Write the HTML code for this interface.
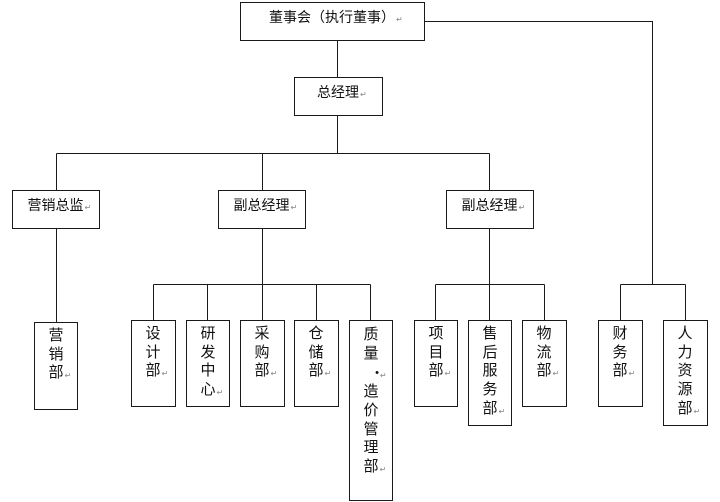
<!DOCTYPE html>
<html><head><meta charset="utf-8">
<style>
html,body{margin:0;padding:0;background:#fff;}
#c{position:relative;width:720px;height:502px;overflow:hidden;background:#fff;font-family:"Liberation Sans","Noto Sans CJK SC",sans-serif;color:#111;}
svg{position:absolute;left:0;top:0;}
.h{position:absolute;text-align:center;font-size:14px;line-height:20px;white-space:nowrap;}
.v{position:absolute;text-align:center;font-size:15px;line-height:18.7px;}
.v div{position:relative;}
.t{position:relative;display:inline-block;}
.m{position:absolute;left:100%;bottom:3px;font-size:8px;line-height:8px;color:#888;margin-left:1px;}
.dot{font-size:11px;position:relative;left:6px;}
</style></head><body>
<div id="c">
<svg width="720" height="502" shape-rendering="crispEdges">
<g fill="none" stroke="#1a1a1a" stroke-width="1">
<rect x="240.5" y="2.5" width="184" height="38"/>
<rect x="294.5" y="77.5" width="88" height="38"/>
<rect x="12.5" y="190.5" width="87" height="38"/>
<rect x="218.5" y="190.5" width="87" height="38"/>
<rect x="446.5" y="190.5" width="87" height="38"/>
<rect x="34.5" y="322.5" width="43" height="87"/>
<rect x="131.5" y="320.5" width="44" height="86"/>
<rect x="186.5" y="320.5" width="43" height="86"/>
<rect x="240.5" y="320.5" width="44" height="86"/>
<rect x="294.5" y="320.5" width="44" height="86"/>
<rect x="349.5" y="320.5" width="43" height="180"/>
<rect x="414.5" y="320.5" width="43" height="86"/>
<rect x="468.5" y="320.5" width="43" height="105"/>
<rect x="522.5" y="320.5" width="44" height="86"/>
<rect x="598.5" y="320.5" width="44" height="86"/>
<rect x="663.5" y="320.5" width="44" height="105"/>
<path d="M337.5 40.5V77.5 M337.5 115.5V153.5 M56.5 153.5H489.5 M56.5 153.5V190.5 M262.5 153.5V190.5 M489.5 153.5V190.5"/>
<path d="M424.5 21.5H652.5V284.5 M620.5 284.5H685.5 M620.5 284.5V320.5 M685.5 284.5V320.5"/>
<path d="M56.5 228.5V322.5"/>
<path d="M262.5 228.5V284.5 M153.5 284.5H370.5 M153.5 284.5V320.5 M207.5 284.5V320.5 M262.5 284.5V320.5 M316.5 284.5V320.5 M370.5 284.5V320.5"/>
<path d="M489.5 228.5V284.5 M435.5 284.5H544.5 M435.5 284.5V320.5 M489.5 284.5V320.5 M544.5 284.5V320.5"/>
</g>
</svg>

<div class="h" style="left:240px;top:7px;width:184px;"><span class="t">董事会（执行董事）<span class="m">↵</span></span></div>
<div class="h" style="left:294px;top:82px;width:88px;"><span class="t">总经理<span class="m">↵</span></span></div>
<div class="h" style="left:12px;top:195px;width:87px;"><span class="t">营销总监<span class="m">↵</span></span></div>
<div class="h" style="left:218px;top:195px;width:87px;"><span class="t">副总经理<span class="m">↵</span></span></div>
<div class="h" style="left:446px;top:195px;width:87px;"><span class="t">副总经理<span class="m">↵</span></span></div>

<div class="v" style="left:34px;top:327px;width:44px;"><div>营</div><div>销</div><div><span class="t">部<span class="m">↵</span></span></div></div>
<div class="v" style="left:131px;top:325px;width:44px;"><div>设</div><div>计</div><div><span class="t">部<span class="m">↵</span></span></div></div>
<div class="v" style="left:186px;top:325px;width:44px;"><div>研</div><div>发</div><div>中</div><div><span class="t">心<span class="m">↵</span></span></div></div>
<div class="v" style="left:240px;top:325px;width:44px;"><div>采</div><div>购</div><div><span class="t">部<span class="m">↵</span></span></div></div>
<div class="v" style="left:294px;top:325px;width:44px;"><div>仓</div><div>储</div><div><span class="t">部<span class="m">↵</span></span></div></div>
<div class="v" style="left:349px;top:326px;width:44px;"><div>质</div><div>量</div><div><span class="t dot">•<span class="m">↵</span></span></div><div>造</div><div>价</div><div>管</div><div>理</div><div><span class="t">部<span class="m">↵</span></span></div></div>
<div class="v" style="left:414px;top:325px;width:44px;"><div>项</div><div>目</div><div><span class="t">部<span class="m">↵</span></span></div></div>
<div class="v" style="left:468px;top:325px;width:44px;"><div>售</div><div>后</div><div>服</div><div>务</div><div><span class="t">部<span class="m">↵</span></span></div></div>
<div class="v" style="left:522px;top:325px;width:44px;"><div>物</div><div>流</div><div><span class="t">部<span class="m">↵</span></span></div></div>
<div class="v" style="left:598px;top:325px;width:44px;"><div>财</div><div>务</div><div><span class="t">部<span class="m">↵</span></span></div></div>
<div class="v" style="left:663px;top:325px;width:44px;"><div>人</div><div>力</div><div>资</div><div>源</div><div><span class="t">部<span class="m">↵</span></span></div></div>
</div>
</body></html>
